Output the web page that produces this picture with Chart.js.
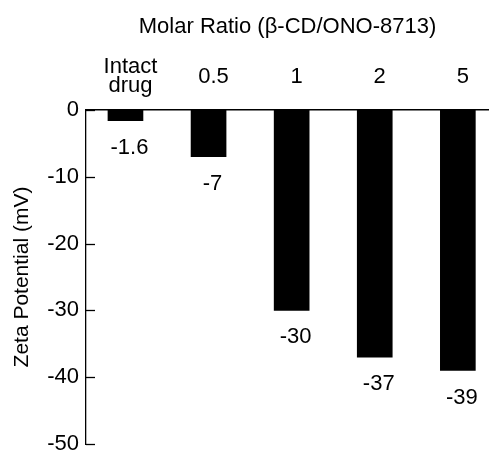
<!DOCTYPE html>
<html>
<head>
<meta charset="utf-8">
<script src="https://cdn.jsdelivr.net/npm/chart.js@4/dist/chart.umd.min.js"></script>
<style>
  html, body { margin: 0; padding: 0; background: #fff; overflow: hidden; }
  #wrap { width: 489px; height: 452px; position: relative; }
</style>
</head>
<body>
<div id="wrap"><canvas id="c" width="489" height="452"></canvas></div>
<script>
// ---- data ----
const categories = ["Intact\ndrug", "0.5", "1", "2", "5"];
const zetaValues = [-1.6, -7, -30, -37, -39];
const valueLabels = ["-1.6", "-7", "-30", "-37", "-39"];
const yTicks = [0, -10, -20, -30, -40, -50];
const xTitle = "Molar Ratio (\u03B2-CD/ONO-8713)";
const yTitle = "Zeta Potential (mV)";

const FONT = "'Liberation Sans', Arial, Helvetica, sans-serif";
const points = zetaValues.map((v, i) => ({ x: i, y: v }));

const X_MIN = -0.475, X_MAX = 4.375, LABEL_SHIFT = 0.06;

const innerTicks = {
  id: 'innerTicks',
  afterDraw(chart) {
    const y = chart.scales.y, ctx = chart.ctx;
    ctx.save();
    ctx.strokeStyle = '#000';
    ctx.lineWidth = 1.3;
    yTicks.forEach(v => {
      const py = Math.round(y.getPixelForValue(v)) + 0.5;
      ctx.beginPath();
      ctx.moveTo(y.right, py);
      ctx.lineTo(y.right + 9, py);
      ctx.stroke();
    });
    ctx.restore();
  }
};

const barValueLabels = {
  id: 'barValueLabels',
  afterDatasetsDraw(chart) {
    const ctx = chart.ctx;
    const meta = chart.getDatasetMeta(0);
    ctx.save();
    ctx.fillStyle = '#000';
    ctx.font = "22px " + FONT;
    ctx.textAlign = 'center';
    ctx.textBaseline = 'middle';
    meta.data.forEach((bar, i) => {
      ctx.fillText(valueLabels[i], bar.x + 4, bar.y + 27);
    });
    ctx.restore();
  }
};

new Chart(document.getElementById('c'), {
  type: 'bar',
  data: {
    datasets: [{
      data: points,
      backgroundColor: '#000',
      borderWidth: 0,
      barThickness: 35,
      xAxisID: 'x',
      yAxisID: 'y'
    }]
  },
  options: {
    responsive: false,
    animation: false,
    layout: { padding: { left: 0, right: 0, top: 0, bottom: 8 } },
    plugins: { legend: { display: false }, tooltip: { enabled: false } },
    scales: {
      x: {
        type: 'linear',
        position: 'top',
        display: false,
        offset: false,
        min: X_MIN,
        max: X_MAX
      },
      xTop: {
        type: 'linear',
        position: 'top',
        offset: false,
        min: X_MIN - LABEL_SHIFT,
        max: X_MAX - LABEL_SHIFT,
        grid: { display: false, drawTicks: false },
        border: { display: true, color: '#000', width: 1.5 },
        ticks: {
          stepSize: 1,
          includeBounds: false,
          autoSkip: false,
          maxRotation: 0,
          crossAlign: 'center',
          padding: 24,
          color: '#000',
          font: { family: FONT, size: 22, lineHeight: 0.85 },
          callback: (v) => {
            if (!Number.isInteger(v) || v < 0 || v >= categories.length) return '';
            return categories[v].split('\n');
          }
        },
        title: {
          display: true,
          text: xTitle,
          color: '#000',
          font: { family: FONT, size: 22, lineHeight: 1.2 },
          padding: { top: 14, bottom: 0 }
        },
        afterFit: (s) => { s.height = 110; s.paddingLeft = 0; s.paddingRight = 0; }
      },
      y: {
        min: -50,
        max: 0,
        afterBuildTicks: (s) => { s.ticks = yTicks.map(v => ({ value: v })); },
        grid: { display: false, drawTicks: false },
        border: { display: true, color: '#000', width: 1.3 },
        ticks: {
          padding: 7,
          color: '#000',
          font: { family: FONT, size: 22 }
        },
        title: {
          display: true,
          text: yTitle,
          color: '#000',
          font: { family: FONT, size: 21, lineHeight: 1.2 },
          padding: { top: 10, bottom: 0 }
        },
        afterFit: (s) => { s.width = 86; s.paddingTop = 0; s.paddingBottom = 0; }
      }
    }
  },
  plugins: [innerTicks, barValueLabels]
});
</script>
</body>
</html>
